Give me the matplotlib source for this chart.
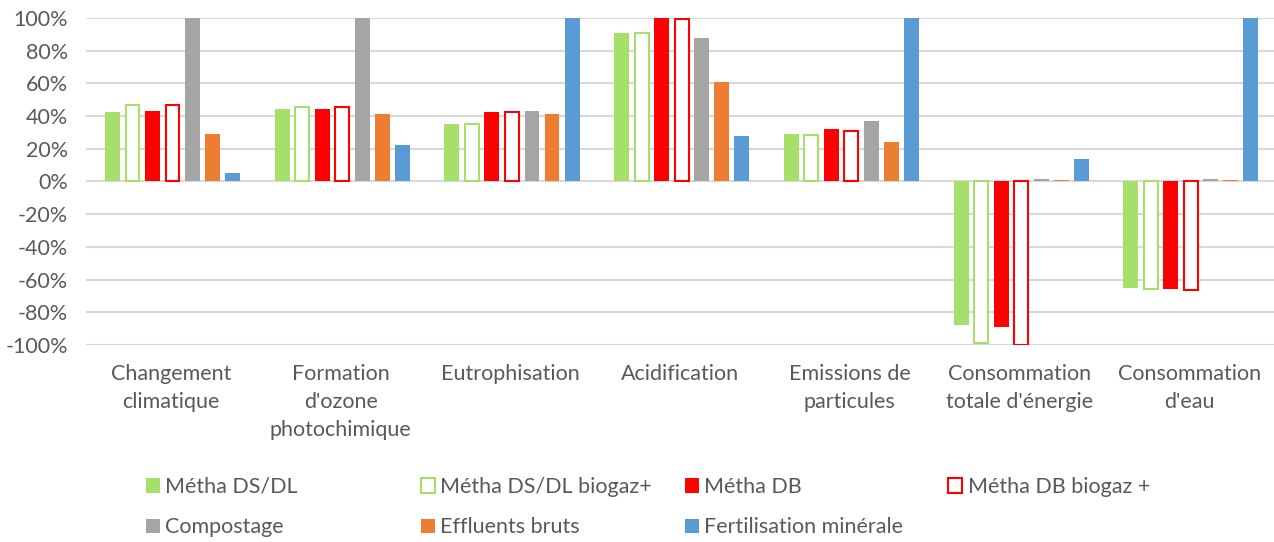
import numpy as np
import matplotlib.pyplot as plt
from matplotlib.patches import Patch

plt.rcParams['font.family'] = ['Lato', 'DejaVu Sans']

categories = ["Changement\nclimatique", "Formation\nd'ozone\nphotochimique", "Eutrophisation",
              "Acidification", "Emissions de\nparticules", "Consommation\ntotale d'énergie",
              "Consommation\nd'eau"]

series_names = ["Métha DS/DL", "Métha DS/DL biogaz+", "Métha DB", "Métha DB biogaz +",
                "Compostage", "Effluents bruts", "Fertilisation minérale"]

metha_dsdl = [42.5, 44.5, 35, 90.5, 29, -88, -65]
metha_dsdl_bio = [46.5, 45.5, 35, 90.5, 28.5, -99, -66]
metha_db = [43, 44.5, 42.5, 100, 32, -89, -65.5]
metha_db_bio = [46.5, 45.5, 42.5, 99.5, 31, -100, -66.5]
compostage = [100, 100, 43, 88, 37, 1.5, 1.5]
effluents = [29, 41, 41, 61, 24, 0.8, 0.8]
fertilisation = [5, 22.5, 100, 28, 100, 14, 100]

series = [metha_dsdl, metha_dsdl_bio, metha_db, metha_db_bio, compostage, effluents, fertilisation]
colors = ['#A6E06A', '#A6E06A', '#FF0000', '#FF0000', '#A5A5A5', '#ED7D31', '#5B9BD5']
hollow = [False, True, False, True, False, False, False]

fig = plt.figure(figsize=(12.74, 5.42), dpi=100)
ax = fig.add_axes([0.0675, 0.3635, 0.9325, 0.6035])

x = np.arange(len(categories))
pitch = 0.118
width = 0.088
handles = []
for i, vals in enumerate(series):
    pos = x + (i - 3) * pitch + 0.01
    if hollow[i]:
        ax.bar(pos, vals, width * 0.93, facecolor='white', edgecolor=colors[i], linewidth=1.5, zorder=3)
        handles.append(Patch(facecolor='white', edgecolor=colors[i], linewidth=1.5, label=series_names[i]))
    else:
        ax.bar(pos, vals, width, color=colors[i], zorder=3)
        handles.append(Patch(facecolor=colors[i], label=series_names[i]))

ax.set_xlim(-0.5, len(categories) - 0.5)
ax.set_ylim(-100, 100)
ax.set_yticks(np.arange(-100, 101, 20))
ax.set_yticklabels([f'{v}%' for v in range(-100, 101, 20)])
ax.yaxis.grid(True, color='#D9D9D9', linewidth=1.5, zorder=0)
ax.set_axisbelow(True)
for s in ax.spines.values():
    s.set_visible(False)
ax.tick_params(axis='y', length=0, labelsize=15.5, labelcolor='#595959', pad=13)
ax.set_xticks(x)
ax.set_xticklabels(categories, linespacing=1.5)
ax.tick_params(axis='x', length=0, labelsize=15.5, labelcolor='#595959', pad=14)

# legend laid out as 4 columns of equal width, like the original
col_x = [0.106, 0.322, 0.529, 0.736]
for c in range(4):
    hs = [handles[c]]
    if c + 4 < len(handles):
        hs.append(handles[c + 4])
    fig.legend(handles=hs, loc='upper left', bbox_to_anchor=(col_x[c], 0.14),
               frameon=False, fontsize=15.5, labelcolor='#595959', handlelength=0.65,
               handleheight=0.65, handletextpad=0.25, labelspacing=0.95, borderpad=0)

fig.savefig('out.png', dpi=100)
